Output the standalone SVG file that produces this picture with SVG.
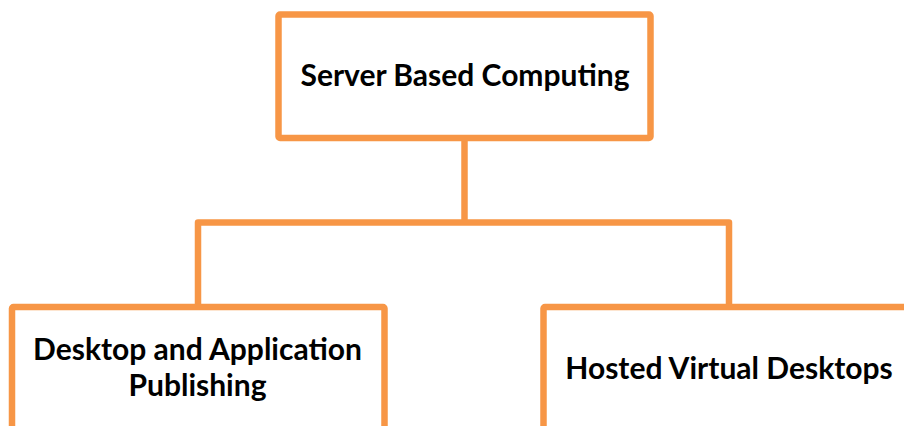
<svg xmlns="http://www.w3.org/2000/svg" width="904" height="426" viewBox="0 0 904 426">
  <style>
    .box { fill: #ffffff; stroke: #F79646; stroke-width: 6.5; stroke-linejoin: round; }
    .link { fill: none; stroke: #F79646; stroke-width: 6.5; stroke-linejoin: round; }
    .label { font-family: Lato, "Open Sans", "Liberation Sans", sans-serif; font-weight: bold; font-size: 30px; fill: #000000; text-anchor: middle; }
  </style>
  <rect width="904" height="426" fill="#ffffff"/>
  <g id="connectors">
    <path class="link" d="M464.5 138 V222.5"/>
    <path class="link" d="M198 307 V222.5 H729 V307"/>
  </g>
  <g id="node-server-based-computing">
    <rect class="box" x="278.5" y="14.5" width="372" height="123.5" rx="1.5"/>
    <text class="label" x="465" y="86">Server Based Computing</text>
  </g>
  <g id="node-desktop-application-publishing">
    <rect class="box" x="12" y="307" width="372.5" height="160" rx="1.5"/>
    <text class="label" x="197.5" y="360">Desktop and Application</text>
    <text class="label" x="197.5" y="396">Publishing</text>
  </g>
  <g id="node-hosted-virtual-desktops">
    <rect class="box" x="543.5" y="307" width="372" height="160" rx="1.5"/>
    <text class="label" x="729" y="379">Hosted Virtual Desktops</text>
  </g>
</svg>
